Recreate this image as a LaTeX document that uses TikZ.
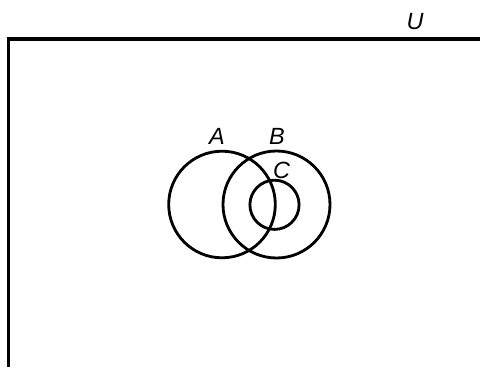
\documentclass[tikz,border=0pt]{standalone}
\usepackage{fontspec}
\setmainfont{Liberation Sans}
\usetikzlibrary{positioning}
\tikzset{
  setline/.style={draw=black,line width=2.4pt},
  frameline/.style={draw=black,line width=2.7pt},
  setlbl/.style={inner sep=0pt,font=\fontsize{20}{22}\selectfont\itshape},
}
\begin{document}
\begin{tikzpicture}[x=0.03cm,y=-0.03cm]
  \useasboundingbox (0,0) rectangle (480,367);
  % universe frame
  \coordinate (ur) at (480,39);
  \coordinate (bl) at (8.5,367);
  \draw[frameline] (ur) -| (bl);
  \node[setlbl] (lu) at (415,22) {U};
  % sets
  \draw[setline] (222,204.5) circle (53.3);
  \draw[setline] (276.5,204.5) circle (53.5);
  \draw[setline] (274.5,204.8) circle (24.6);
  \node[setlbl] (la) at (217,136) {A};
  \node[setlbl] (lb) at (277,136) {B};
  \node[setlbl] (lc) at (281.5,170.5) {C};
\end{tikzpicture}
\end{document}
